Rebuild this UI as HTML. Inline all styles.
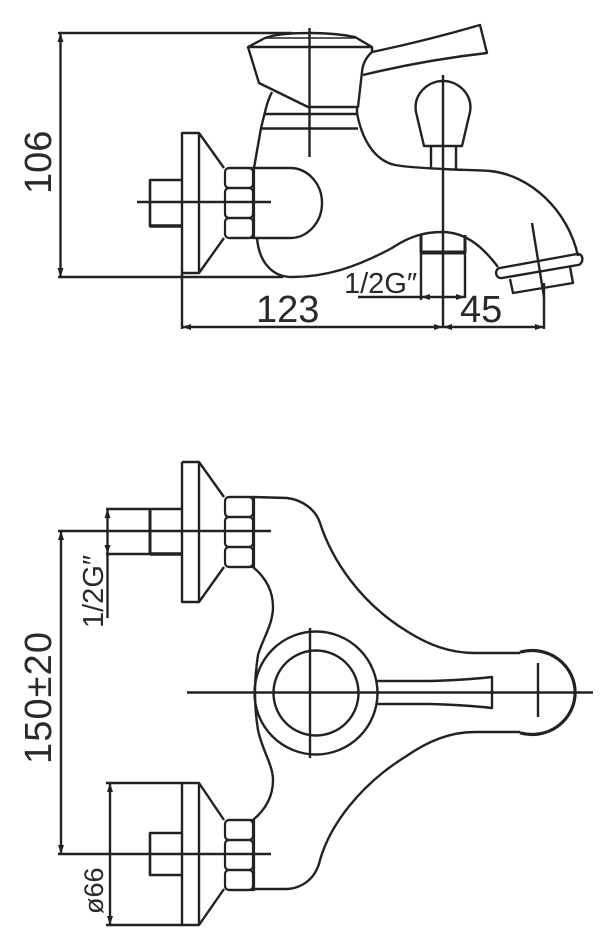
<!DOCTYPE html>
<html>
<head>
<meta charset="utf-8">
<style>
html,body{margin:0;padding:0;background:#fff;}
svg{display:block;}
text{font-family:"Liberation Sans",sans-serif;fill:#2a2a2a;}
</style>
</head>
<body>
<svg width="609" height="950" viewBox="0 0 609 950" xmlns="http://www.w3.org/2000/svg">
<defs>
<g id="nut" fill="none" stroke="#222" stroke-width="2.2">
  <rect x="225" y="0" width="28" height="20" rx="4"/>
  <rect x="225" y="20" width="28" height="30" rx="4"/>
  <rect x="225" y="50" width="28" height="20" rx="4"/>
  <path d="M229 0H254V70H229"/>
</g>
</defs>
<g fill="none" stroke="#222" stroke-width="2.4" stroke-linejoin="round" style="filter:blur(.35px)">
<!-- TOP VIEW -->
<path d="M58 33H292M60.500 33V277M58 277H283"/>
<path d="M182 273V329M182 327H544M544 283V329"/>
<path d="M182 277V133H199L224 168M199 133V273H182M199 273L224 238"/>
<path d="M182 180H150V226H182" stroke-width="2.600"/>
<path d="M150 226H182" stroke-width="3.500"/>
<path d="M137 202H271"/>
<use href="#nut" y="168"/>
<path d="M254 168H290C308 168 322 184 322 203C322 222 308 238 290 238H254"/>
<path d="M254 168L261 128L266 108Q268 100 272 92"/>
<path d="M257 238C259 262 272 277 292 277C325 277 355 268 392 248C410 236 425 232 442 232C468 232 485 250 498 267"/>
<path d="M248 47H372M248 47L259 83L308 107H358L362 72Q363 60 372 52L372 47L355 37Q335 33 310 33Q285 33 272 36L265 38Z"/>
<path d="M265 38H355" stroke-width="1.600"/>
<path d="M309.500 28V157"/>
<path d="M372 52Q425 41 480 25L487 53Q425 60 363 75"/>
<path d="M265 114H357M261 128.500H358"/>
<path d="M357 107L357 113C361 135 372 160 395 165C412 168 430 168 443 169C460 170 475 170 490 171C530 175 568 210 578 256"/>
<path d="M443 75V327"/>
<path d="M424 146H462L470 112C473 95 459 81 443 81C427 81 413 95 416 112Z"/>
<path d="M431 146V169M456 146V169"/>
<path d="M500 268L577 254C584 253 584 264 578 265L502 278C495 279 494 269 500 268Z"/>
<path d="M510 279L513 293L573 283L570 267"/>
<path d="M532 223L544 297"/>
<path d="M421 235V300M465 235V298"/>
<path d="M421 235V253M465 235V253" stroke-width="3"/>
<path d="M421 252.500H465" stroke-width="4"/>
<path d="M358 297H465"/>

<!-- BOTTOM VIEW -->
<path d="M182 462H199L224 497M182 462V602H199L224 567M199 462V602"/>
<path d="M106 509H182M106 554H150"/>
<path d="M150 510V554" stroke-width="3"/>
<path d="M150 554H182" stroke-width="3.500"/>
<path d="M58 531H271M61 531V854"/>
<path d="M107.500 509V618"/>
<use href="#nut" y="497"/>
<path d="M106 783H199L224 820M106 925H199L224 889M182 783V925M199 783V925"/>
<path d="M182 833H150V875H182" stroke-width="2.600"/>
<path d="M58 854H271M110 783V925"/>
<use href="#nut" y="820"/>
<path d="M253 497L287 498C303 500 316 510 320 523C332 560 360 602 405 630C428 645 450 653 475 653H520"/>
<path d="M253 889H287C303 888 316 878 320 860C330 825 360 785 405 757C428 741 450 732 475 732H520"/>
<path d="M520 652.200A43 42 0 1 1 520 732.800" stroke-width="3.200"/>
<path d="M253 567C265 577 273 590 273 607C273 625 262 640 258 655Q255 675 255 692Q255 712 258 730C262 750 273 765 273 780C273 797 265 810 253 820"/>
<circle cx="316" cy="693" r="61.500"/>
<circle cx="316" cy="693" r="42.500"/>
<path d="M310 628V758M187 692.500H593"/>
<path d="M377 681H430Q465 680 492 677V708Q465 705 430 704H377"/>
<path d="M538 663V717"/>
</g>
<g fill="#222">
<path d="M60.500 33L57.500 42H63.500ZM60.500 277L57.500 268H63.500Z"/>
<path d="M182 327L191 324V330ZM443 327L434 324V330ZM443 327L452 324V330ZM544 327L535 324V330Z"/>
<path d="M421 297L430 294V300ZM465 297L456 294V300Z"/>
<path d="M61 531L58 540H64ZM61 854L58 845H64Z"/>
<path d="M107.500 509L104.500 518H110.500ZM107.500 554L104.500 545H110.500Z"/>
<path d="M110 783L107 792H113ZM110 925L107 916H113Z"/>
</g>
<text x="256" y="322" font-size="38">123</text>
<text x="460" y="322" font-size="38">45</text>
<text x="344" y="293" font-size="29">1/2G″</text>
<text transform="translate(51 194) rotate(-90)" font-size="38">106</text>
<text transform="translate(51 764) rotate(-90)" font-size="38" textLength="132" lengthAdjust="spacing">150±20</text>
<text transform="translate(103 628) rotate(-90)" font-size="29">1/2G″</text>
<text transform="translate(103 914) rotate(-90)" font-size="27">ø66</text>
</svg>
</body>
</html>
